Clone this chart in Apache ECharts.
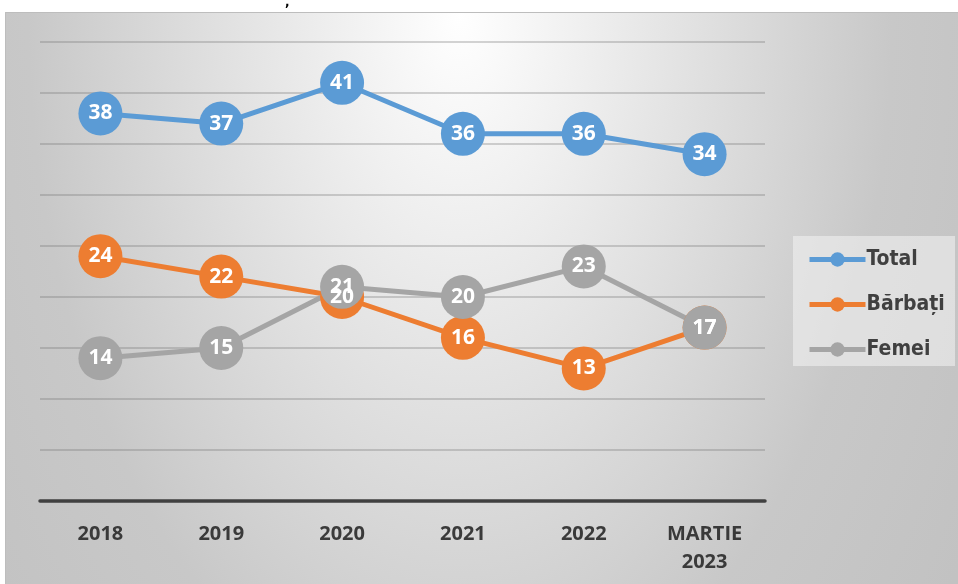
<!DOCTYPE html>
<html>
<head>
<meta charset="utf-8">
<script src="https://cdn.jsdelivr.net/npm/echarts@6/dist/echarts.min.js"></script>
<style>
  html, body { margin: 0; padding: 0; background: #ffffff; }
  #chart { width: 958px; height: 584px; }
</style>
</head>
<body>
<div id="chart"></div>
<script>
var categories = ["2018", "2019", "2020", "2021", "2022", "MARTIE\n2023"];
var total = [38, 37, 41, 36, 36, 34];
var barbati = [24, 22, 20, 16, 13, 17];
var femei = [14, 15, 21, 20, 23, 17];

var chart = echarts.init(document.getElementById('chart'));

function lineSeries(name, color, data) {
    return {
        name: name,
        type: 'line',
        data: data,
        symbol: 'circle',
        symbolSize: 44,
        lineStyle: { width: 5, color: color },
        itemStyle: { color: color },
        label: {
            show: true,
            position: 'inside',
            color: '#ffffff',
            fontSize: 21,
            fontWeight: 'bold',
            fontFamily: 'Open Sans'
        },
        emphasis: { disabled: true }
    };
}

// background: elliptical radial gradient (scaled rect)
var sx = 0.6;
var option = {
    animation: false,
    graphic: [
        {
            type: 'rect',
            z: -10,
            x: 5,
            y: 12,
            scaleX: sx,
            shape: { x: 0, y: 0, width: 953 / sx, height: 572 },
            style: {
                fill: new echarts.graphic.RadialGradient(455 / sx, 0, 1000, [
                    { offset: 0, color: '#ffffff' },
                    { offset: 0.55, color: '#d5d5d5' },
                    { offset: 0.72, color: '#c8c8c8' },
                    { offset: 1, color: '#c2c2c2' }
                ], true)
            }
        },
        {
            type: 'rect',
            z: -9,
            shape: { x: 5.5, y: 12.5, width: 953, height: 572 },
            style: { fill: 'none', stroke: '#bdbdbd', lineWidth: 1 }
        },
        {
            type: 'rect',
            z: -5,
            shape: { x: 793, y: 236, width: 162, height: 130 },
            style: { fill: 'rgba(240,240,240,0.6)' }
        },
        {
            type: 'text',
            x: 285,
            y: -3,
            style: { text: ',', fill: '#000000', font: 'bold 12px DejaVu Sans' }
        }
    ],
    grid: {
        left: 40,
        right: 193,
        top: 42,
        bottom: 83
    },
    legend: {
        orient: 'vertical',
        left: 802,
        top: 244,
        itemGap: 24,
        itemWidth: 56,
        itemHeight: 18,
        lineStyle: { width: 5 },
        textStyle: {
            color: '#404040',
            fontSize: 21,
            fontWeight: 'bold',
            fontFamily: 'DejaVu Sans Condensed',
            padding: [0, 0, 0, -4]
        },
        data: ['Total', 'Bărbați', 'Femei']
    },
    xAxis: {
        type: 'category',
        data: categories,
        boundaryGap: true,
        axisLine: { lineStyle: { color: '#404040', width: 3.5 } },
        axisTick: { show: false },
        axisLabel: {
            color: '#3a3a3a',
            fontSize: 20,
            fontWeight: 'bold',
            fontFamily: 'Open Sans',
            margin: 19,
            lineHeight: 28
        }
    },
    yAxis: {
        type: 'value',
        min: 0,
        max: 45,
        interval: 5,
        axisLabel: { show: false },
        axisLine: { show: false },
        axisTick: { show: false },
        splitLine: { lineStyle: { color: 'rgba(110,110,110,0.4)', width: 1.5 } }
    },
    series: [
        lineSeries('Total', '#5b9bd5', total),
        lineSeries('Bărbați', '#ed7d31', barbati),
        lineSeries('Femei', '#a5a5a5', femei)
    ]
};

chart.setOption(option);
</script>
</body>
</html>
